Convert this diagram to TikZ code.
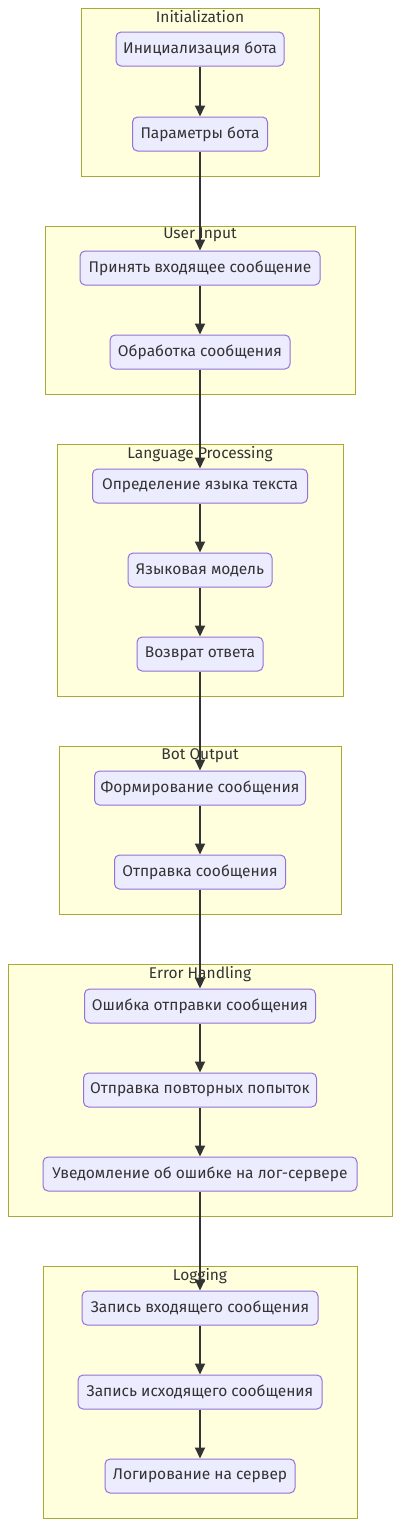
\documentclass[tikz,border=0pt]{standalone}
\usepackage{fontspec}
\setmainfont{Fira Sans}
\usepackage{tikz}
\usetikzlibrary{arrows.meta,positioning}
\definecolor{grpfill}{HTML}{FFFFDE}
\definecolor{grpline}{HTML}{AAAA33}
\definecolor{blkfill}{HTML}{ECECFF}
\definecolor{blkline}{HTML}{9370DB}
\definecolor{ink}{HTML}{333333}

\begin{document}
\begin{tikzpicture}[x=1pt,y=-1pt]

\tikzset{
  blk/.style  = {draw=blkline, fill=blkfill, line width=1pt, rounded corners=5pt,
                 minimum height=34pt, inner sep=0pt, text=ink,
                 font=\fontsize{15.5}{18}\selectfont},
  grp/.style  = {draw=grpline, fill=grpfill, line width=1pt, inner sep=0pt},
  lbl/.style  = {font=\fontsize{15.5}{18}\selectfont, text=ink, inner sep=2.5pt},
  flow/.style = {-{Triangle[length=11pt,width=10pt]}, line width=2pt, draw=ink},
}

\useasboundingbox (0,0) rectangle (401,1526);

\node[grp, minimum width=238, minimum height=168] (gInit) at (200,92) {};
\node[lbl, anchor=north] at (gInit.north) {Initialization};
\node[grp, minimum width=310, minimum height=168] (gInput) at (200,310) {};
\node[lbl, anchor=north] at (gInput.north) {User Input};
\node[grp, minimum width=286, minimum height=252] (gLang) at (200,570) {};
\node[lbl, anchor=north] at (gLang.north) {Language Processing};
\node[grp, minimum width=282, minimum height=168] (gOut) at (200,830) {};
\node[lbl, anchor=north] at (gOut.north) {Bot Output};
\node[grp, minimum width=384, minimum height=252] (gErr) at (200,1090) {};
\node[lbl, anchor=north] at (gErr.north) {Error Handling};
\node[grp, minimum width=314, minimum height=252] (gLog) at (200,1392) {};
\node[lbl, anchor=north] at (gLog.north) {Logging};

\node[blk, minimum width=168] (init) at (200,49) {Инициализация бота};
\node[blk, minimum width=135] (params) at (200,134) {Параметры бота};
\node[blk, minimum width=240] (recv) at (200,268) {Принять входящее сообщение};
\node[blk, minimum width=180] (proc) at (200,352) {Обработка сообщения};
\node[blk, minimum width=215] (detect) at (200,486) {Определение языка текста};
\node[blk, minimum width=144] (model) at (200,570) {Языковая модель};
\node[blk, minimum width=126] (answer) at (200,654) {Возврат ответа};
\node[blk, minimum width=211] (form) at (200,788) {Формирование сообщения};
\node[blk, minimum width=171] (send) at (200,872) {Отправка сообщения};
\node[blk, minimum width=231] (fail) at (200,1006) {Ошибка отправки сообщения};
\node[blk, minimum width=233] (retry) at (200,1090) {Отправка повторных попыток};
\node[blk, minimum width=314] (notify) at (200,1174) {Уведомление об ошибке на лог-сервере};
\node[blk, minimum width=236] (logIn) at (200,1308) {Запись входящего сообщения};
\node[blk, minimum width=244] (logOut) at (200,1392) {Запись исходящего сообщения};
\node[blk, minimum width=190] (logSrv) at (200,1476) {Логирование на сервер};

\draw[flow] (init) -- (params);
\draw[flow] (params) -- (recv);
\draw[flow] (recv) -- (proc);
\draw[flow] (proc) -- (detect);
\draw[flow] (detect) -- (model);
\draw[flow] (model) -- (answer);
\draw[flow] (answer) -- (form);
\draw[flow] (form) -- (send);
\draw[flow] (send) -- (fail);
\draw[flow] (fail) -- (retry);
\draw[flow] (retry) -- (notify);
\draw[flow] (notify) -- (logIn);
\draw[flow] (logIn) -- (logOut);
\draw[flow] (logOut) -- (logSrv);
\end{tikzpicture}
\end{document}
